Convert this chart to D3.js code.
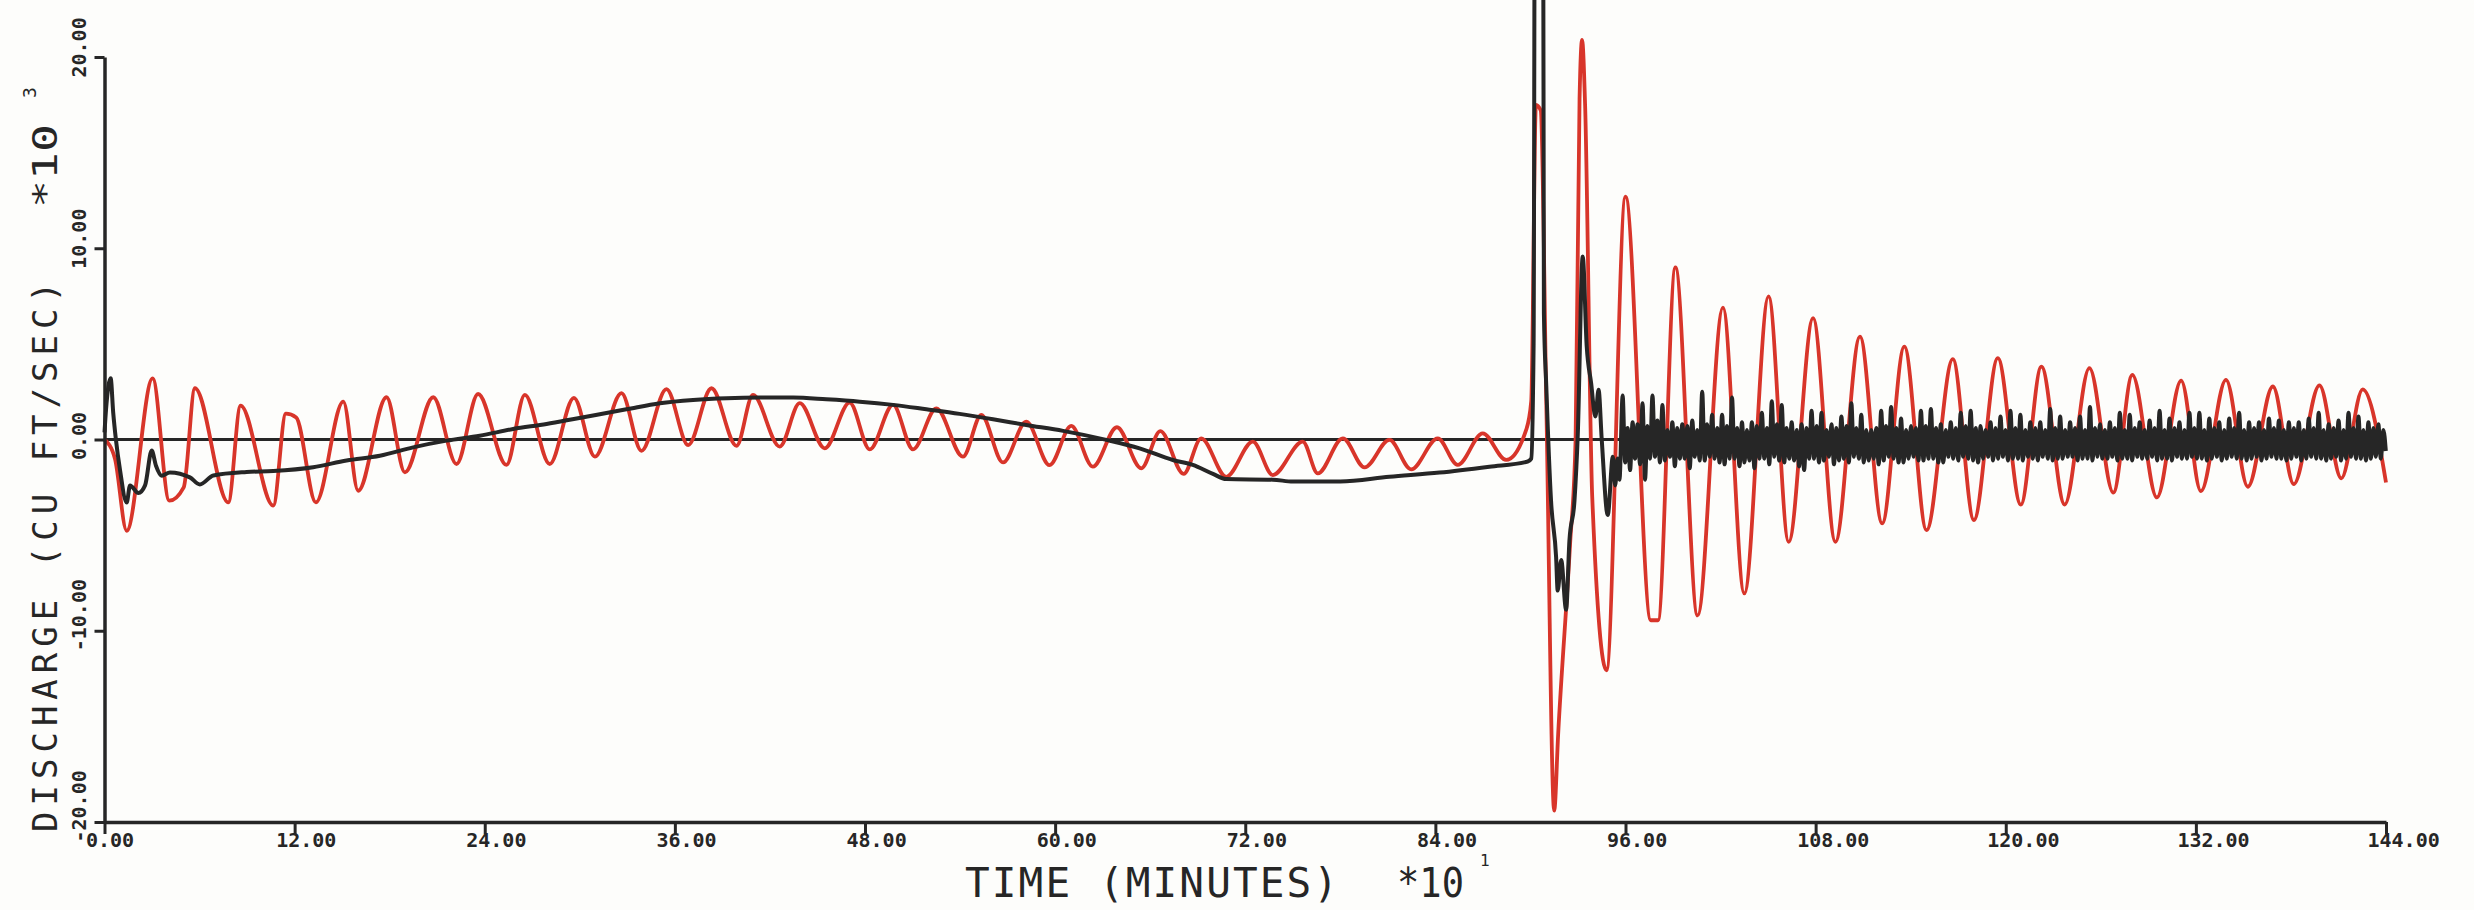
<!DOCTYPE html>
<html>
<head>
<meta charset="utf-8">
<script src="https://cdn.jsdelivr.net/npm/d3@7"></script>
<style>
  html, body { margin: 0; padding: 0; background: #fdfdfb; }
  svg { display: block; }
</style>
</head>
<body>
<svg id="chart" width="2474" height="910"></svg>
<script>
// Axis ticks (time in units of 10 minutes, discharge in 1000 cu ft/sec)
const xTicks = [0, 12, 24, 36, 48, 60, 72, 84, 96, 108, 120, 132, 144];
const yTicks = [-20, -10, 0, 10, 20];

// Red trace: turning points of the discharge record
const redTime = [0, 0.66, 1.40, 3.04, 4.09, 5.00, 5.71, 7.81, 8.59, 10.65, 11.45, 12.10, 13.34, 15.07, 16.01,
  17.80, 18.96, 20.75, 22.22, 23.58, 25.37, 26.53, 28.10, 29.63, 30.95, 32.63, 33.89, 35.47, 36.84, 38.31,
  39.89, 40.93, 42.62, 43.88, 45.46, 47.03, 48.30, 49.77, 51.03, 52.50, 54.18, 55.34, 56.71, 58.18, 59.65,
  61.02, 62.38, 63.90, 65.44, 66.64, 68.11, 69.22, 70.80, 72.48, 73.74, 75.63, 76.58, 78.16, 79.53, 81.10,
  82.47, 84.15, 85.41, 86.99, 88.47, 89.73, 90.05, 90.35, 90.65, 91.00, 91.50, 91.75, 92.50, 92.85, 93.10,
  93.26, 93.45, 93.90, 94.80, 96.00, 97.60, 98.05, 99.15, 100.55, 102.15, 103.50, 105.03, 106.30, 107.84,
  109.25, 110.80, 112.20, 113.60, 115.00, 116.66, 117.99, 119.50, 120.95, 122.25, 123.72, 125.28, 126.79,
  127.99, 129.54, 131.07, 132.32, 133.90, 135.28, 136.86, 138.18, 139.80, 141.18, 142.53, 144.00];
const redFlow = [0.0, -1.0, -4.77, 3.20, -3.20, -2.50, 2.68, -3.29, 1.77, -3.46, 1.35, 1.15, -3.29, 1.98, -2.68,
  2.21, -1.72, 2.21, -1.28, 2.38, -1.33, 2.33, -1.28, 2.18, -0.90, 2.42, -0.59, 2.63, -0.29, 2.68,
  -0.33, 2.33, -0.37, 1.90, -0.46, 1.93, -0.52, 1.81, -0.52, 1.63, -0.90, 1.28, -1.20, 0.93, -1.34,
  0.71, -1.42, 0.64, -1.51, 0.44, -1.80, 0.06, -1.95, -0.11, -1.86, -0.11, -1.77, 0.06, -1.46, -0.02,
  -1.56, 0.06, -1.33, 0.32, -1.07, 0.50, 2.0, 17.5, 17.2, 2.0, -19.4, -15.4, -5.5, 0.0, 17.8,
  20.9, 17.5, -3.0, -12.07, 12.70, -9.45, -9.45, 9.00, -9.20, 6.90, -8.05, 7.48, -5.35, 6.35,
  -5.35, 5.38, -4.39, 4.86, -4.74, 4.20, -4.21, 4.25, -3.40, 3.81, -3.40, 3.73, -2.78,
  3.38, -3.03, 3.08, -2.70, 3.12, -2.47, 2.77, -2.33, 2.83, -2.03, 2.62, -2.25];

// Black trace up to the surge
const blackTime = [0.00, 0.10, 0.39, 0.55, 0.72, 0.98, 1.40, 1.61, 2.14, 2.56, 2.98, 3.25, 3.61, 4.13, 5.39,
  6.02, 6.87, 8.97, 10.65, 13.17, 15.28, 17.38, 19.48, 21.59, 23.69, 25.79, 27.90, 29.80, 32.94, 35.05,
  37.15, 39.26, 41.36, 43.46, 45.56, 47.67, 49.77, 51.87, 53.97, 56.08, 58.18, 60.50, 63.23, 65.33, 67.43,
  68.69, 69.96, 70.80, 73.74, 75.00, 78.00, 81.10, 84.26, 87.41, 89.83, 90.05, 90.20, 90.28, 90.80, 90.85,
  91.00, 91.30, 91.62, 91.72, 91.94, 92.25, 92.46, 92.78, 92.99, 93.30, 93.55, 93.83, 94.10, 94.30, 94.50,
  94.88, 95.20, 95.35, 95.50, 95.62];
const blackFlow = [0.37, 1.6, 3.2, 1.4, 0.0, -1.6, -3.3, -2.4, -2.8, -2.4, -0.58, -1.37, -1.89, -1.72, -1.98,
  -2.35, -1.88, -1.70, -1.65, -1.45, -1.10, -0.85, -0.41, -0.06, 0.20, 0.55, 0.81, 1.10, 1.58, 1.90,
  2.07, 2.16, 2.19, 2.19, 2.10, 1.98, 1.81, 1.58, 1.34, 1.06, 0.76, 0.45, -0.02, -0.46, -1.07,
  -1.33, -1.80, -2.07, -2.10, -2.20, -2.20, -1.95, -1.73, -1.42, -1.15, -1.0, 5.0, 30, 30, 6.6,
  2.8, -3.2, -6.15, -7.9, -6.3, -8.9, -5.3, -3.2, 0.3, 9.57, 4.9, 2.95, 1.2, 2.6, 0.0,
  -3.95, -0.9, -2.4, -1.0, -2.1];

// Black trace after the surge: samples at a fixed time step
const blackTailStart = 95.82;
const blackTailStep = 0.1569;
const blackTail = [
  2.3, -1.2, 0.6, -1.6, 0.9, -1.0, 0.8, -1.3,
  1.9, -2.1, 0.7, -1.0, 2.3, -0.9, 1.0, -1.2,
  1.8, -1.1, 0.5, -0.9, 0.9, -1.4, 0.6, -1.0,
  0.8, -1.0, 0.7, -1.5, 1.0, -0.9, 0.5, -1.1,
  2.5, -1.1, 0.8, -0.9, 1.3, -1.0, 0.6, -1.2,
  1.3, -1.3, 0.7, -1.0, 2.2, -1.0, 0.6, -1.4,
  0.9, -1.2, 0.5, -1.1, 0.9, -1.5, 0.7, -1.0,
  1.4, -1.0, 0.6, -1.3, 2.0, -0.9, 0.8, -1.1,
  1.8, -1.2, 0.6, -1.0, 0.9, -1.1, 0.5, -1.4,
  0.8, -1.6, 0.6, -1.0, 1.5, -1.0, 0.7, -1.2,
  1.4, -1.1, 0.5, -0.9, 0.8, -1.3, 0.6, -1.1,
  1.2, -1.0, 0.7, -1.2, 1.9, -0.9, 0.6, -1.0,
  1.3, -1.2, 0.5, -1.1, 0.5, -1.0, 0.6, -1.3,
  1.5, -1.1, 0.7, -0.9, 1.7, -1.0, 0.6, -1.2,
  1.1, -1.2, 0.5, -1.0, 0.7, -0.9, 0.6, -1.1,
  1.5, -1.1, 0.7, -1.0, 1.6, -1.0, 0.6, -1.2,
  0.8, -1.2, 0.5, -0.9, 0.9, -1.0, 0.6, -1.1,
  1.4, -0.9, 0.7, -1.0, 1.5, -1.1, 0.6, -1.2,
  0.7, -1.0, 0.5, -0.9, 0.9, -1.1, 0.6, -1.0,
  1.2, -0.9, 0.5, -1.1, 1.5, -1.0, 0.6, -1.0,
  1.3, -1.1, 0.5, -0.9, 0.9, -1.0, 0.6, -1.1,
  0.9, -0.9, 0.5, -1.0, 1.6, -1.1, 0.6, -1.0,
  1.2, -1.0, 0.5, -0.9, 0.9, -0.9, 0.6, -1.1,
  1.2, -1.0, 0.5, -1.0, 1.7, -1.1, 0.6, -0.9,
  0.8, -1.0, 0.5, -1.0, 0.9, -0.9, 0.6, -1.1,
  1.4, -1.0, 0.5, -1.0, 1.3, -1.1, 0.6, -0.9,
  0.9, -1.0, 0.5, -1.0, 1.0, -0.9, 0.6, -1.1,
  1.5, -1.0, 0.5, -1.0, 1.1, -1.1, 0.6, -0.9,
  0.9, -1.0, 0.5, -1.0, 1.4, -0.9, 0.6, -1.0,
  1.4, -1.0, 0.5, -1.1, 1.1, -1.0, 0.6, -0.9,
  0.9, -1.1, 0.5, -1.0, 1.1, -0.9, 0.6, -1.0,
  1.4, -1.0, 0.5, -1.1, 0.9, -1.0, 0.6, -0.9,
  0.9, -1.1, 0.5, -1.0, 1.1, -0.9, 0.6, -1.0,
  1.0, -1.0, 0.5, -1.1, 0.9, -1.0, 0.6, -0.9,
  0.9, -1.1, 0.5, -1.0, 1.1, -0.9, 0.6, -1.0,
  1.4, -1.0, 0.5, -1.1, 0.8, -1.0, 0.6, -0.9,
  1.0, -1.1, 0.5, -1.0, 1.4, -0.9, 0.6, -1.0,
  1.2, -1.0, 0.5, -1.1, 0.9, -1.0, 0.6, -0.9,
  0.8, -1.0, 0.5, -0.6
];

const INK = "#262626";
const RED = "#d8352a";
const MONO = "'DejaVu Sans Mono', 'Liberation Mono', monospace";

const svg = d3.select("#chart");

const x = d3.scaleLinear().domain([0, 144]).range([104.5, 2386]);
const y = d3.scaleLinear().domain([-20, 20]).range([822, 57]);

const line = d3.line()
  .x(d => x(d[0]))
  .y(d => y(d[1]))
  .curve(d3.curveMonotoneX);

const redPts = redTime.map((t, i) => [t, redFlow[i]]);
const blackPts = blackTime.map((t, i) => [t, blackFlow[i]])
  .concat(blackTail.map((v, i) => [blackTailStart + i * blackTailStep, v]));

// zero reference line
svg.append("line")
  .attr("x1", x(0)).attr("x2", x(144))
  .attr("y1", y(0)).attr("y2", y(0))
  .attr("stroke", INK).attr("stroke-width", 3.2);

svg.append("path")
  .datum(redPts)
  .attr("d", line)
  .attr("fill", "none")
  .attr("stroke", RED)
  .attr("stroke-width", 3.8)
  .attr("stroke-linejoin", "round");

svg.append("path")
  .datum(blackPts)
  .attr("d", line)
  .attr("fill", "none")
  .attr("stroke", INK)
  .attr("stroke-width", 4)
  .attr("stroke-linejoin", "round");

// x axis
const gx = svg.append("g")
  .attr("transform", `translate(0,${y(-20)})`)
  .call(d3.axisBottom(x).tickValues(xTicks).tickSize(12).tickSizeOuter(0).tickFormat(d => d.toFixed(2)));
gx.select(".domain").attr("stroke", INK).attr("stroke-width", 3.5);
gx.selectAll(".tick line").attr("stroke", INK).attr("stroke-width", 3);
gx.selectAll(".tick text")
  .attr("x", -19).attr("y", 25).attr("dy", null)
  .attr("text-anchor", "start")
  .attr("fill", INK)
  .style("font-family", MONO).style("font-weight", "bold").style("font-size", "20px");

// y axis
const gy = svg.append("g")
  .attr("transform", `translate(${x(0)},0)`)
  .call(d3.axisLeft(y).tickValues(yTicks).tickSize(10).tickSizeOuter(0).tickFormat(d => d.toFixed(2)));
gy.select(".domain").attr("stroke", INK).attr("stroke-width", 3.5);
gy.selectAll(".tick line").attr("stroke", INK).attr("stroke-width", 3);
gy.selectAll(".tick text")
  .attr("x", 0).attr("y", 0).attr("dy", null)
  .attr("transform", "translate(-19,20) rotate(-90)")
  .attr("text-anchor", "start")
  .attr("fill", INK)
  .style("font-family", MONO).style("font-weight", "bold").style("font-size", "20px");
svg.selectAll(".domain").attr("fill", "none");

// axis titles
const title = svg.append("g")
  .attr("fill", INK)
  .style("font-family", MONO);

title.append("text")
  .attr("transform", "translate(965,897)")
  .attr("font-size", 41)
  .attr("textLength", 373)
  .attr("lengthAdjust", "spacing")
  .text("TIME (MINUTES)");
title.append("text")
  .attr("transform", "translate(1397,897)")
  .attr("font-size", 41)
  .attr("textLength", 67)
  .attr("lengthAdjust", "spacingAndGlyphs")
  .text("*10");
title.append("text")
  .attr("transform", "translate(1480,866)")
  .attr("font-size", 16)
  .text("1");

title.append("text")
  .attr("transform", "translate(57,832) rotate(-90)")
  .attr("font-size", 34)
  .attr("textLength", 550)
  .attr("lengthAdjust", "spacing")
  .text("DISCHARGE (CU FT/SEC)");
title.append("text")
  .attr("transform", "translate(57,208) rotate(-90)")
  .attr("font-size", 34)
  .attr("textLength", 84)
  .attr("lengthAdjust", "spacingAndGlyphs")
  .text("*10");
title.append("text")
  .attr("transform", "translate(36,98) rotate(-90)")
  .attr("font-size", 18)
  .text("3");
</script>
</body>
</html>
